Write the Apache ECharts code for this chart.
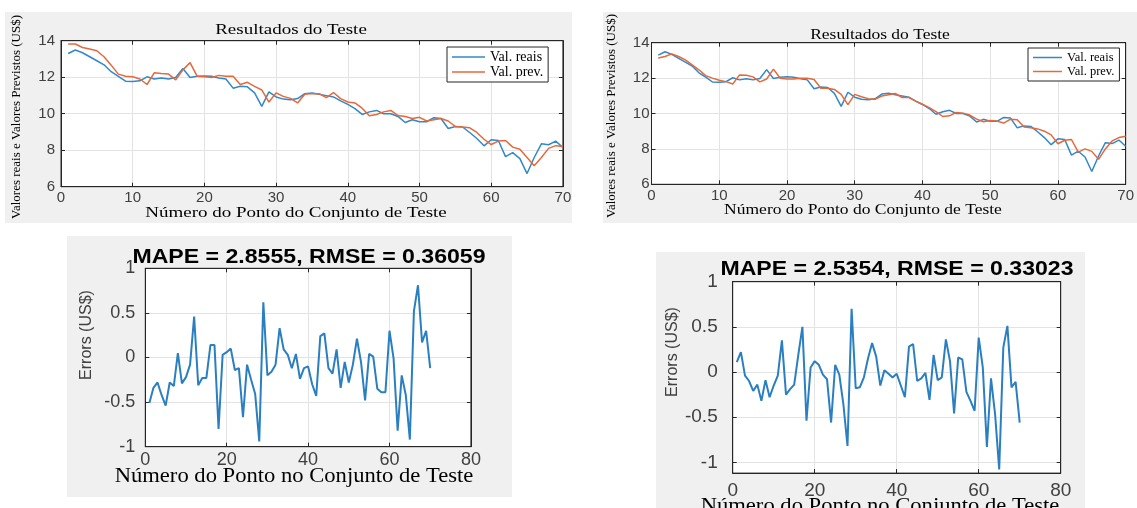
<!DOCTYPE html>
<html>
<head>
<meta charset="utf-8">
<title>Resultados do Teste</title>
<script src="https://cdn.jsdelivr.net/npm/echarts@6/dist/echarts.min.js"></script>
<style>
html, body { margin: 0; padding: 0; background: #fff; }
#grafico { width: 1137px; height: 508px; }
</style>
</head>
<body>
<div id="grafico"></div>
<script>
// numero do ponto do conjunto de teste (1..70)
var pontos = [];
for (var k = 1; k <= 70; k++) pontos.push(k);

// valores reais (iguais nos dois graficos de cima)
var valReais = [
	13.30, 13.49, 13.34, 13.12, 12.90, 12.68, 12.30, 12.05, 11.78, 11.76,
	11.80, 12.02, 11.90, 11.96, 11.90, 11.98, 12.48, 11.98, 12.05, 12.07,
	12.05, 11.96, 11.90, 11.40, 11.50, 11.47, 11.14, 10.40, 11.20, 10.92,
	10.80, 10.77, 10.83, 11.10, 11.14, 11.06, 10.99, 10.92, 10.70, 10.51,
	10.28, 9.96, 10.10, 10.18, 10.00, 10.00, 9.85, 9.52, 9.67, 9.56,
	9.56, 9.78, 9.74, 9.19, 9.30, 9.27, 8.97, 8.64, 8.24, 8.57,
	8.53, 7.65, 7.87, 7.54, 6.72, 7.60, 8.35, 8.30, 8.50, 8.15
];
// valores previstos - grafico da esquerda
var valPrevEsq = [
	13.82, 13.82, 13.63, 13.54, 13.45, 13.12, 12.66, 12.17, 12.05, 12.02,
	11.90, 11.60, 12.24, 12.20, 12.17, 11.85, 12.40, 12.80, 12.05, 12.02,
	11.98, 12.10, 12.05, 12.05, 11.60, 11.72, 11.50, 11.30, 10.64, 11.14,
	10.95, 10.84, 10.59, 11.06, 11.10, 11.10, 10.88, 11.16, 10.83, 10.64,
	10.59, 10.30, 9.89, 9.96, 10.10, 10.18, 9.90, 9.85, 9.74, 9.80,
	9.60, 9.67, 9.74, 9.60, 9.30, 9.27, 9.23, 8.97, 8.60, 8.31,
	8.50, 8.53, 8.17, 8.05, 7.60, 7.15, 7.60, 8.10, 8.25, 8.20
];
// valores previstos - grafico da direita
var valPrevDir = [
	13.13, 13.22, 13.37, 13.22, 13.03, 12.75, 12.47, 12.14, 12.00, 11.88,
	11.80, 11.67, 12.18, 12.16, 12.07, 11.79, 11.95, 12.51, 11.99, 11.95,
	11.95, 11.99, 11.99, 11.92, 11.43, 11.43, 11.36, 11.08, 10.50, 11.08,
	10.95, 10.84, 10.80, 10.99, 11.06, 11.13, 10.90, 10.90, 10.70, 10.52,
	10.33, 10.10, 9.83, 9.87, 10.06, 10.02, 9.91, 9.68, 9.53, 9.60,
	9.57, 9.46, 9.68, 9.65, 9.24, 9.20, 9.13, 9.00, 8.79, 8.29,
	8.49, 8.53, 7.82, 8.00, 7.86, 7.41, 8.00, 8.45, 8.64, 8.72
];
// erros (US$)
var errosEsq = [
	-0.51, -0.34, -0.28, -0.42, -0.54, -0.28, -0.32, 0.05, -0.29, -0.22,
	-0.08, 0.46, -0.31, -0.23, -0.23, 0.14, 0.14, -0.80, 0.03, 0.06,
	0.10, -0.14, -0.12, -0.67, -0.08, -0.25, -0.41, -0.94, 0.62, -0.20,
	-0.16, -0.08, 0.33, 0.09, 0.03, -0.12, 0.04, -0.24, -0.12, -0.10,
	-0.30, -0.43, 0.24, 0.27, -0.12, -0.18, 0.09, -0.34, -0.05, -0.28,
	-0.08, 0.21, -0.05, -0.48, 0.04, 0.01, -0.35, -0.39, -0.39, 0.30,
	-0.01, -0.82, -0.20, -0.42, -0.92, 0.52, 0.81, 0.17, 0.30, -0.12
];
var errosDir = [
	0.11, 0.22, -0.04, -0.10, -0.21, -0.14, -0.32, -0.09, -0.28, -0.15,
	-0.04, 0.35, -0.25, -0.19, -0.14, 0.19, 0.50, -0.54, 0.05, 0.12,
	0.08, -0.03, -0.08, -0.56, 0.08, -0.03, -0.36, -0.82, 0.70, -0.18,
	-0.17, -0.06, 0.15, 0.32, 0.17, -0.15, 0.02, -0.02, -0.06, -0.02,
	-0.15, -0.28, 0.28, 0.31, -0.10, -0.07, -0.01, -0.31, 0.19, -0.09,
	-0.06, 0.36, 0.12, -0.46, 0.16, 0.14, -0.22, -0.32, -0.43, 0.38,
	0.05, -0.83, -0.07, -0.47, -1.08, 0.27, 0.51, -0.17, -0.11, -0.56
];
var titulosErro = ['MAPE = 2.8555, RMSE = 0.36059', 'MAPE = 2.5354, RMSE = 0.33023'];
var ticksErroDir = [-1, -0.5, 0, 0.5, 1];

var AZUL = '#3288c8';
var LARANJA = '#e5693b';
var SANS = '"Liberation Sans", Arial, sans-serif';
var SERIF = '"Liberation Serif", "Times New Roman", serif';

function pares(vals) {
	return vals.map(function(v, i) { return [pontos[i], v]; });
}

function eixo(idx, min, max, intervalo, fonte, margem) {
	return {
		type: 'value', gridIndex: idx, min: min, max: max, interval: intervalo,
		axisLine: { show: true, onZero: false, lineStyle: { color: '#262626' } },
		axisTick: { show: true, inside: true, length: 4, lineStyle: { color: '#262626' } },
		axisLabel: { fontFamily: SANS, fontSize: fonte, color: '#404040', margin: margem },
		splitLine: { show: true, lineStyle: { color: '#e3e3e3' } }
	};
}

// eixo espelhado (topo / direita) so com os ticks, como no MATLAB
function espelho(base, pos) {
	var e = JSON.parse(JSON.stringify(base));
	e.position = pos;
	e.axisLabel.show = false;
	e.splitLine.show = false;
	return e;
}

function texto(x, y, t, fonte, familia, opts) {
	opts = opts || {};
	return {
		type: 'text', x: x, y: y, z: 10,
		rotation: opts.rot || 0, scaleX: opts.sx || 1,
		style: {
			text: t, fontSize: fonte, fontFamily: familia, fontWeight: opts.bold ? 'bold' : 'normal',
			fill: opts.cor || '#000', align: 'center', verticalAlign: 'middle',
			textAlign: 'center', textVerticalAlign: 'middle'
		}
	};
}

function painel(x, y, w, h) {
	return { type: 'rect', z: -10, shape: { x: x, y: y, width: w, height: h }, style: { fill: '#f0f0f0' } };
}

function grade(l, t, w, h) {
	return { left: l, top: t, width: w, height: h, show: true, backgroundColor: '#fff', borderColor: '#262626', borderWidth: 1 };
}

function legenda(l, t, larg, fonte) {
	return {
		left: l, top: t, orient: 'vertical', icon: 'rect', itemWidth: larg, itemHeight: 1.5, itemGap: 1,
		padding: [3, 5], backgroundColor: '#fff', borderColor: '#262626', borderWidth: 1, borderRadius: 0,
		textStyle: { fontFamily: SERIF, fontSize: fonte, lineHeight: 13, color: '#000' },
		data: ['Val. reais', 'Val. prev.']
	};
}

var xs = [
	eixo(0, 0, 70, 10, 15, 4),
	eixo(1, 0, 70, 10, 15, 4),
	eixo(2, 0, 80, 20, 18, 4),
	eixo(3, 0, 80, 20, 19, 8)
];
var yDir = eixo(3, -1.12, 1, null, 19, 15);
delete yDir.interval;
yDir.axisLabel.customValues = ticksErroDir;
yDir.axisTick.customValues = ticksErroDir;
var ys = [
	eixo(0, 6, 14, 2, 15, 6),
	eixo(1, 6, 14, 2, 15, 2),
	eixo(2, -1, 1, 0.5, 18, 10),
	yDir
];

var myChart = echarts.init(document.getElementById('grafico'));
var option = {
	backgroundColor: '#fff',
	animation: false,
	grid: [
		grade(61, 40.7, 501.9, 146),
		grade(651.5, 42.7, 486.2, 141.6),
		grade(145.3, 268.3, 325.6, 178.4),
		grade(732.7, 281.7, 328, 191.4)
	],
	xAxis: xs.concat(xs.map(function(e) { return espelho(e, 'top'); })),
	yAxis: ys.concat(ys.map(function(e) { return espelho(e, 'right'); })),
	legend: [legenda(447, 47, 33, 14), legenda(1028, 48, 29, 12.5)],
	graphic: { elements: [
		painel(5, 12, 567, 211),
		painel(603, 12, 534, 211),
		painel(67, 236, 445, 261),
		painel(656, 252, 429, 256),
		texto(291, 30, 'Resultados do Teste', 14.5, SERIF, { sx: 1.31 }),
		texto(880, 35, 'Resultados do Teste', 14, SERIF, { sx: 1.25 }),
		texto(296, 213, 'Número do Ponto do Conjunto de Teste', 14.5, SERIF, { sx: 1.31 }),
		texto(863, 210, 'Número do Ponto do Conjunto de Teste', 14, SERIF, { sx: 1.25 }),
		texto(17, 117, 'Valores reais e Valores Previstos (US$)', 13, SERIF, { rot: Math.PI / 2 }),
		texto(612, 116, 'Valores reais e Valores Previstos (US$)', 13, SERIF, { rot: Math.PI / 2 }),
		texto(309, 257, titulosErro[0], 21, SANS, { bold: true, sx: 1.1 }),
		texto(897, 269, titulosErro[1], 21, SANS, { bold: true, sx: 1.1 }),
		texto(294, 477, 'Número do Ponto no Conjunto de Teste', 20, SERIF, { sx: 1.13 }),
		texto(880, 507, 'Número do Ponto no Conjunto de Teste', 20, SERIF, { sx: 1.13 }),
		texto(87, 335, 'Errors (US$)', 16, SANS, { rot: Math.PI / 2, cor: '#404040' }),
		texto(673, 352, 'Errors (US$)', 16, SANS, { rot: Math.PI / 2, cor: '#404040' })
	] },
	series: [
		{ name: 'Val. reais', type: 'line', xAxisIndex: 0, yAxisIndex: 0, symbol: 'none', data: pares(valReais), lineStyle: { width: 1.5, color: AZUL }, itemStyle: { color: AZUL } },
		{ name: 'Val. prev.', type: 'line', xAxisIndex: 0, yAxisIndex: 0, symbol: 'none', data: pares(valPrevEsq), lineStyle: { width: 1.5, color: LARANJA }, itemStyle: { color: LARANJA } },
		{ name: 'Val. reais', type: 'line', xAxisIndex: 1, yAxisIndex: 1, symbol: 'none', data: pares(valReais), lineStyle: { width: 1.5, color: AZUL }, itemStyle: { color: AZUL } },
		{ name: 'Val. prev.', type: 'line', xAxisIndex: 1, yAxisIndex: 1, symbol: 'none', data: pares(valPrevDir), lineStyle: { width: 1.5, color: LARANJA }, itemStyle: { color: LARANJA } },
		{ name: 'Erro esq', type: 'line', xAxisIndex: 2, yAxisIndex: 2, symbol: 'none', data: pares(errosEsq), lineStyle: { width: 2, color: '#2a7fc1' } },
		{ name: 'Erro dir', type: 'line', xAxisIndex: 3, yAxisIndex: 3, symbol: 'none', data: pares(errosDir), lineStyle: { width: 2, color: '#2a7fc1' } }
	]
};
myChart.setOption(option);
</script>
</body>
</html>
